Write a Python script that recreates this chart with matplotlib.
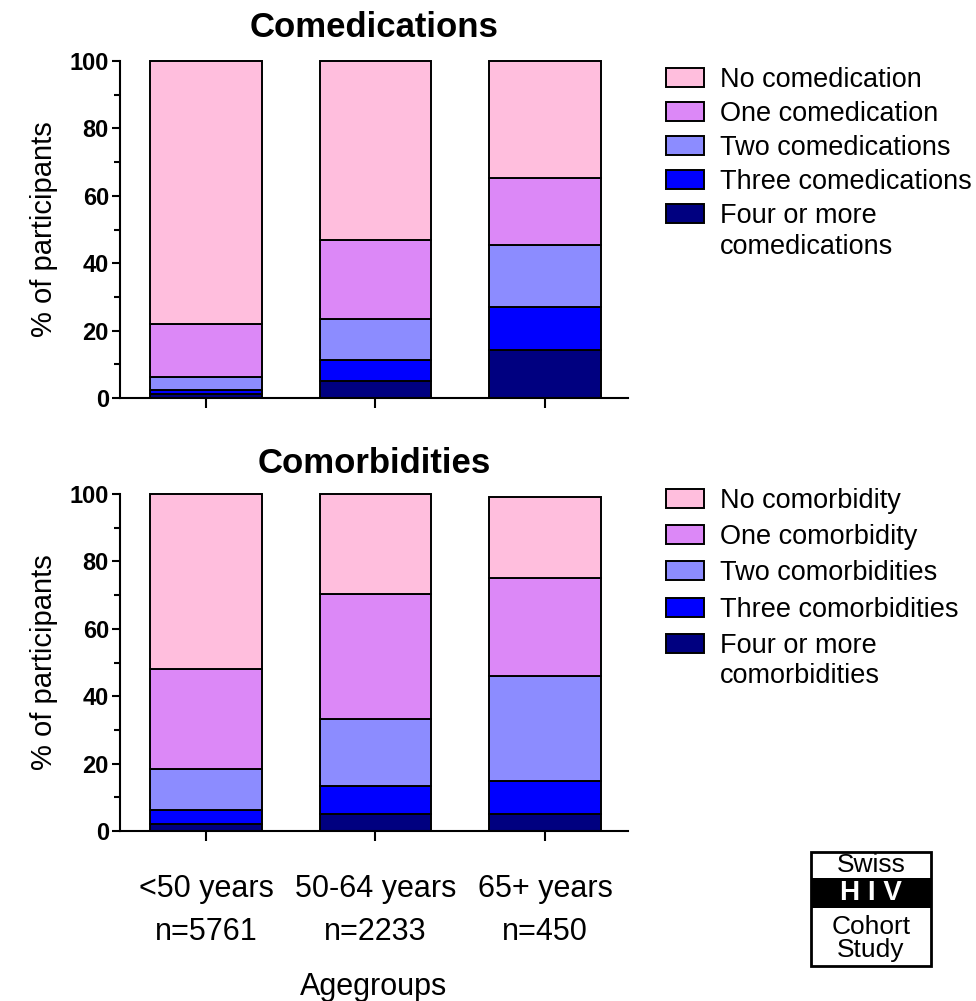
import numpy as np
import matplotlib
matplotlib.use("Agg")
import matplotlib.pyplot as plt
from matplotlib.patches import Rectangle

plt.rcParams['font.family'] = ['Liberation Sans', 'DejaVu Sans']

# age groups and the share (%) of participants per level, bottom of stack first
agegroups = ["<50 years\nn=5761", "50-64 years\nn=2233", "65+ years\nn=450"]

med_four = [1.2, 4.9, 14.3]
med_three = [1.1, 6.5, 12.6]
med_two = [4.0, 12.0, 18.4]
med_one = [15.6, 23.4, 20.1]
med_none = [78.1, 53.2, 34.6]
med_labels = ["Four or more\ncomedications", "Three comedications",
              "Two comedications", "One comedication", "No comedication"]

mor_four = [2.1, 5.0, 5.0]
mor_three = [4.1, 8.5, 9.7]
mor_two = [12.1, 19.8, 31.3]
mor_one = [29.8, 37.0, 29.2]
mor_none = [51.9, 29.7, 23.9]
mor_labels = ["Four or more\ncomorbidities", "Three comorbidities",
              "Two comorbidities", "One comorbidity", "No comorbidity"]

colors = ["#000080", "#0000FF", "#8C8CFF", "#DC88F7", "#FFBEDD"]

W, H = 976, 1001
fig = plt.figure(figsize=(W / 100, H / 100), dpi=100)


def px_axes(l, t, r, b):
    return fig.add_axes([l / W, 1 - b / H, (r - l) / W, (b - t) / H])


def stacked(ax, series, labels, title, title_pad, legend_top, spacing):
    x = np.arange(len(agegroups))
    bottom = np.zeros(len(agegroups))
    handles = []
    for vals, lab, col in zip(series, labels, colors):
        bars = ax.bar(x, vals, 0.66, bottom=bottom, color=col,
                      edgecolor="black", linewidth=1.4, label=lab, clip_on=False)
        handles.append(bars)
        bottom += np.array(vals)
    ax.set_xlim(-0.507, 2.49)
    ax.set_ylim(0, 100)
    ax.set_yticks([0, 20, 40, 60, 80, 100])
    ax.set_yticks([10, 30, 50, 70, 90], minor=True)
    ax.set_xticks(x)
    for s in ["top", "right"]:
        ax.spines[s].set_visible(False)
    for s in ["left", "bottom"]:
        ax.spines[s].set_linewidth(1.5)
    ax.tick_params(axis="y", which="major", length=6, width=1.5, labelsize=17, pad=2)
    ax.tick_params(axis="y", which="minor", length=4, width=1.5)
    ax.tick_params(axis="x", length=7, width=1.5, labelsize=22, pad=24)
    for t in ax.get_yticklabels():
        t.set_fontweight("bold")
    ax.set_ylabel("% of participants", fontsize=21, labelpad=8)
    ax.set_title(title, fontsize=25, fontweight="bold", pad=title_pad)

    # legend rows top to bottom; the two-line label keeps its box next to the first line
    first_lines = [lab.split("\n")[0] for lab in labels[::-1]]
    leg = ax.legend(handles[::-1], first_lines, loc="upper left",
                    bbox_to_anchor=(655 / W, 1 - legend_top / H),
                    bbox_transform=fig.transFigure, frameon=False,
                    fontsize=19.5, handlelength=1.4, handleheight=0.7,
                    handletextpad=0.6, labelspacing=spacing, borderaxespad=0)
    rest = labels[0].split("\n")[1]
    ax.annotate(rest, xy=(0, 0), xycoords=leg.get_texts()[-1],
                xytext=(0, -3), textcoords="offset points",
                ha="left", va="top", fontsize=19.5, zorder=10,
                annotation_clip=False)
    return ax


ax1 = px_axes(120, 61, 628, 398)
stacked(ax1, [med_four, med_three, med_two, med_one, med_none],
        med_labels, "Comedications", 17, 56, 0.3)
ax1.set_xticklabels([])

ax2 = px_axes(120, 494, 628, 831)
stacked(ax2, [mor_four, mor_three, mor_two, mor_one, mor_none],
        mor_labels, "Comorbidities", 15, 477, 0.38)
ax2.set_xticklabels(agegroups, linespacing=1.55)
ax2.set_xlabel("Agegroups", fontsize=22, labelpad=18)

# cohort logo in the lower right corner
logo = px_axes(811, 852, 931, 966)
logo.set_xlim(0, 1)
logo.set_ylim(0, 1)
logo.axis("off")
logo.add_patch(Rectangle((0, 0), 1, 1, facecolor="white", edgecolor="black",
                         linewidth=2, clip_on=False))
logo.add_patch(Rectangle((0, 0.51), 1, 0.26, facecolor="black", edgecolor="none"))
logo.text(0.5, 0.885, "Swiss", ha="center", va="center", fontsize=19)
logo.text(0.5, 0.64, "H I V", ha="center", va="center", fontsize=20,
          fontweight="bold", color="white")
logo.text(0.5, 0.345, "Cohort", ha="center", va="center", fontsize=19)
logo.text(0.5, 0.14, "Study", ha="center", va="center", fontsize=19)

fig.savefig("out.png", dpi=100)
